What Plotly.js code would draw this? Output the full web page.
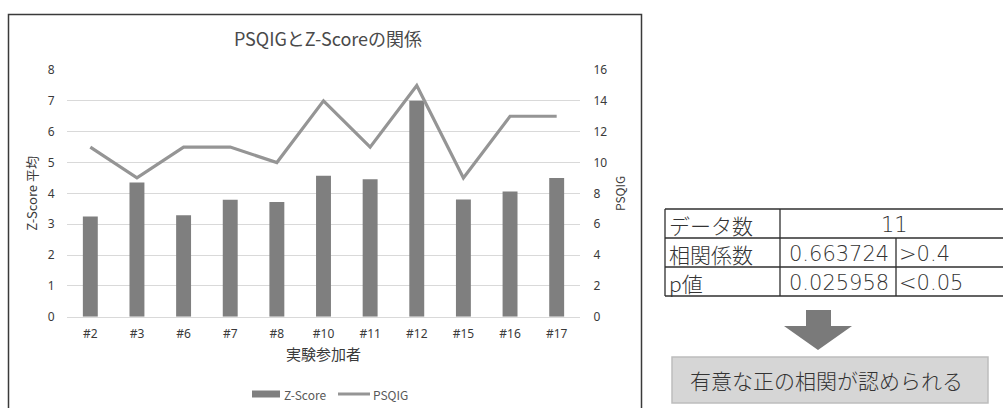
<!DOCTYPE html>
<html>
<head>
<meta charset="utf-8">
<script src="https://cdn.plot.ly/plotly-3.0.1.min.js"></script>
<style>
  html, body { margin: 0; padding: 0; background: #ffffff; }
  #chart { width: 1003px; height: 408px; }
</style>
</head>
<body>
<div id="chart"></div>
<script>
// Participants and measured series
const participants = ['#2', '#3', '#6', '#7', '#8', '#10', '#11', '#12', '#15', '#16', '#17'];
const zScoreMean = [3.25, 4.35, 3.29, 3.79, 3.72, 4.57, 4.46, 7.0, 3.8, 4.06, 4.5];
const psqig = [11, 9, 11, 11, 10, 14, 11, 15, 9, 13, 13];
const seriesNames = ['Z-Score', 'PSQIG'];

// Correlation summary table
const tableLabels = ['データ数', '相関係数', 'p値'];
const tableValues = ['11', '0.663724', '0.025958'];
const tableCriteria = ['', '>0.4', '<0.05'];
const conclusion = '有意な正の相関が認められる';

// Page geometry helpers (pixels -> paper fractions)
const W = 1003, H = 408;
const px = x => x / W;
const py = y => 1 - y / H;

const BAR_COLOR = '#7f7f7f';
const LINE_COLOR = '#959595';
const GRID_COLOR = '#d9d9d9';
const TEXT_COLOR = '#595959';
const CJK = '"Noto Sans CJK JP", "Noto Sans", sans-serif';
const TABLE_FONT = '"DejaVu Sans", "Noto Sans CJK JP", sans-serif';
const TABLE_COLOR = '#333333';

const traces = [
  {
    type: 'bar',
    name: seriesNames[0],
    x: participants,
    y: zScoreMean,
    marker: { color: BAR_COLOR },
    xaxis: 'x', yaxis: 'y',
    hoverinfo: 'x+y'
  },
  {
    type: 'scatter',
    mode: 'lines',
    name: seriesNames[1],
    x: participants,
    y: psqig,
    line: { color: LINE_COLOR, width: 3.2 },
    xaxis: 'x', yaxis: 'y2',
    hoverinfo: 'x+y'
  }
];

const shapes = [];
const annotations = [];

// Chart frame
shapes.push({
  type: 'rect', xref: 'paper', yref: 'paper',
  x0: px(8.5), x1: px(641.5), y0: py(420), y1: py(14.5),
  line: { color: '#3a3a3a', width: 1.5 }, fillcolor: 'rgba(0,0,0,0)', layer: 'below'
});

// Hand-drawn legend (wide bar swatch, line swatch)
const legendY = 394;
shapes.push({
  type: 'rect', xref: 'paper', yref: 'paper',
  x0: px(252), x1: px(280), y0: py(legendY + 3.5), y1: py(legendY - 3.5),
  line: { width: 0 }, fillcolor: BAR_COLOR
});
annotations.push({
  xref: 'paper', yref: 'paper', x: px(282), y: py(legendY),
  xanchor: 'left', yanchor: 'middle', showarrow: false,
  text: seriesNames[0], font: { family: CJK, size: 12, color: TEXT_COLOR }
});
shapes.push({
  type: 'line', xref: 'paper', yref: 'paper',
  x0: px(338), x1: px(370), y0: py(legendY), y1: py(legendY),
  line: { color: LINE_COLOR, width: 3 }
});
annotations.push({
  xref: 'paper', yref: 'paper', x: px(371), y: py(legendY),
  xanchor: 'left', yanchor: 'middle', showarrow: false,
  text: seriesNames[1], font: { family: CJK, size: 12, color: TEXT_COLOR }
});

// Summary table
const colX = [665, 780, 896, 1012];
const rowY = [209, 238, 267, 296];
const TL = { color: '#2f2f2f', width: 1.3 };
rowY.forEach(y => shapes.push({
  type: 'line', xref: 'paper', yref: 'paper',
  x0: px(colX[0]), x1: px(colX[3]), y0: py(y), y1: py(y), line: TL
}));
[colX[0], colX[1]].forEach(x => shapes.push({
  type: 'line', xref: 'paper', yref: 'paper',
  x0: px(x), x1: px(x), y0: py(rowY[0]), y1: py(rowY[3]), line: TL
}));
shapes.push({
  type: 'line', xref: 'paper', yref: 'paper',
  x0: px(colX[2]), x1: px(colX[2]), y0: py(rowY[1]), y1: py(rowY[3]), line: TL
});
const esc = s => s.replace(/</g, '&lt;').replace(/>/g, '&gt;');
const labelFont = { family: CJK, size: 21, color: TABLE_COLOR, weight: 300 };
const numFont = { family: TABLE_FONT, size: 21, color: TABLE_COLOR, weight: 300 };
tableLabels.forEach((label, i) => {
  const cy = (rowY[i] + rowY[i + 1]) / 2 + 1;
  annotations.push({
    xref: 'paper', yref: 'paper', x: px(colX[0] + 2), y: py(cy),
    xanchor: 'left', yanchor: 'middle', showarrow: false,
    text: label, font: labelFont
  });
  if (tableCriteria[i] === '') {
    annotations.push({
      xref: 'paper', yref: 'paper', x: px((colX[1] + colX[3]) / 2 - 2), y: py(cy),
      xanchor: 'center', yanchor: 'middle', showarrow: false,
      text: tableValues[i], font: numFont
    });
  } else {
    annotations.push({
      xref: 'paper', yref: 'paper', x: px(colX[2] - 5), y: py(cy),
      xanchor: 'right', yanchor: 'middle', showarrow: false,
      text: tableValues[i], font: numFont
    });
    annotations.push({
      xref: 'paper', yref: 'paper', x: px(colX[2] + 1), y: py(cy),
      xanchor: 'left', yanchor: 'middle', showarrow: false,
      text: esc(tableCriteria[i]), font: numFont
    });
  }
});

// Down arrow
const ax = 818;
shapes.push({
  type: 'path', xref: 'paper', yref: 'paper',
  path: [
    'M', px(ax - 12), py(310), 'L', px(ax + 13), py(310),
    'L', px(ax + 13), py(326), 'L', px(ax + 34), py(326),
    'L', px(ax), py(350), 'L', px(ax - 34), py(326),
    'L', px(ax - 12), py(326), 'Z'
  ].join(' ').replace(/ ([\d.]+) ([\d.]+)/g, ' $1,$2'),
  fillcolor: '#7a7a7a', line: { width: 0 }
});

// Conclusion box
shapes.push({
  type: 'rect', xref: 'paper', yref: 'paper',
  x0: px(672), x1: px(988), y0: py(403), y1: py(357),
  fillcolor: '#d6d6d6', line: { color: '#bdbdbd', width: 1.5 }
});
annotations.push({
  xref: 'paper', yref: 'paper', x: px(826), y: py(380),
  xanchor: 'center', yanchor: 'middle', showarrow: false,
  text: conclusion, font: { family: CJK, size: 21, color: '#333333', weight: 300 }
});

const layout = {
  width: W, height: H,
  margin: { l: 0, r: 0, t: 0, b: 0 },
  paper_bgcolor: '#ffffff',
  plot_bgcolor: 'rgba(0,0,0,0)',
  showlegend: false,
  bargap: 0.68,
  title: {
    text: 'PSQIGとZ-Scoreの関係',
    font: { family: CJK, size: 18, color: '#4a4a4a' },
    x: px(328), xanchor: 'center', xref: 'paper',
    y: py(40), yanchor: 'middle', yref: 'paper'
  },
  xaxis: {
    domain: [px(67), px(580)],
    anchor: 'y',
    type: 'category',
    showgrid: false,
    showline: true, linecolor: GRID_COLOR, linewidth: 1,
    ticks: 'outside', ticklen: 6, tickcolor: 'rgba(0,0,0,0)',
    tickfont: { family: '"Noto Sans", sans-serif', size: 12, color: '#3a3a3a' },
    title: {
      text: '実験参加者',
      font: { family: CJK, size: 15, color: '#3a3a3a' },
      standoff: 8
    },
    automargin: false,
    fixedrange: true
  },
  yaxis: {
    domain: [py(316.7), py(70)],
    range: [0, 8],
    dtick: 1,
    showgrid: true, gridcolor: GRID_COLOR, gridwidth: 1,
    zeroline: false, showline: false,
    ticks: 'outside', ticklen: 9, tickcolor: 'rgba(0,0,0,0)',
    tickfont: { family: '"Noto Sans", sans-serif', size: 12, color: '#3a3a3a' },
    title: {
      text: 'Z-Score 平均',
      font: { family: CJK, size: 13, color: '#3a3a3a' },
      standoff: 7
    },
    automargin: false,
    fixedrange: true
  },
  yaxis2: {
    overlaying: 'y',
    side: 'right',
    anchor: 'x',
    range: [0, 16],
    dtick: 2,
    showgrid: false, zeroline: false, showline: false,
    ticks: 'outside', ticklen: 10, tickcolor: 'rgba(0,0,0,0)',
    tickfont: { family: '"Noto Sans", sans-serif', size: 12, color: '#3a3a3a' },
    title: {
      text: 'PSQIG',
      font: { family: CJK, size: 12, color: '#3a3a3a' },
      standoff: 10
    },
    automargin: false,
    fixedrange: true
  },
  shapes: shapes,
  annotations: annotations
};

Plotly.newPlot('chart', traces, layout, { displayModeBar: false, staticPlot: true });
</script>
</body>
</html>
